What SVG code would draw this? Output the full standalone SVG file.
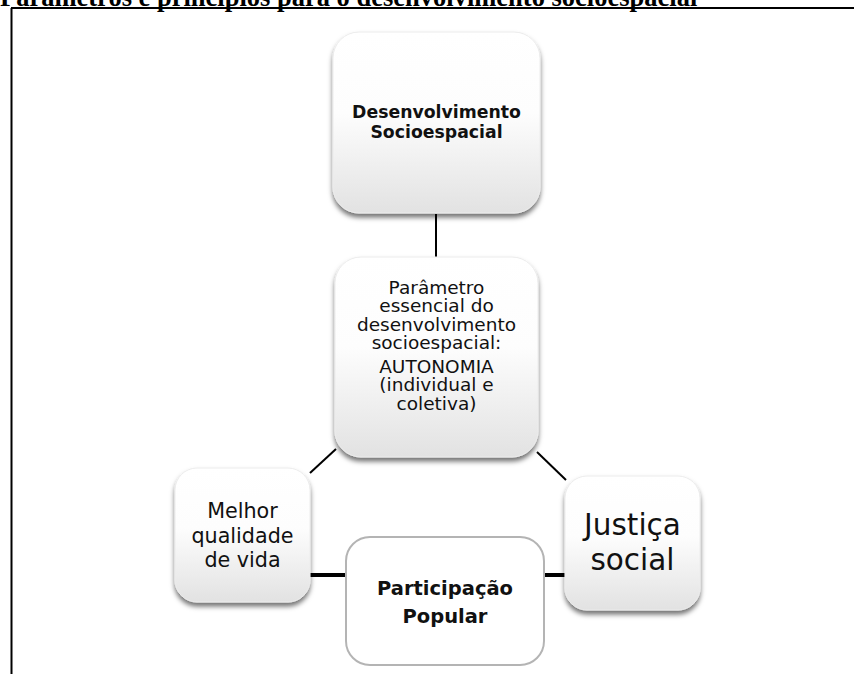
<svg xmlns="http://www.w3.org/2000/svg" width="854" height="674" viewBox="0 0 854 674">
<defs>
<linearGradient id="g" x1="0" y1="0" x2="0" y2="1">
<stop offset="0" stop-color="#ffffff"/>
<stop offset="0.45" stop-color="#fdfdfd"/>
<stop offset="1" stop-color="#e2e2e2"/>
</linearGradient>
<filter id="sh" x="-20%" y="-20%" width="140%" height="140%">
<feDropShadow dx="0" dy="4" stdDeviation="2.5" flood-color="#000" flood-opacity="0.55"/>
</filter>
</defs>
<style>
.box{fill:url(#g);stroke:#ececec;stroke-width:1;filter:url(#sh)}
.plain{fill:#fff;stroke:#b4b4b4;stroke-width:2}
.t{font-family:"DejaVu Sans","Verdana",sans-serif;fill:#111;text-anchor:middle}
.b{font-weight:bold}
.c{stroke:#000;fill:none}
.title{font-family:"Liberation Serif","Times New Roman",serif;font-weight:bold;font-size:26.5px;fill:#000}
</style>
<rect width="854" height="674" fill="#fff"/>
<text class="title" x="0" y="6">Parâmetros e princípios para o desenvolvimento socioespacial</text>
<path d="M11 8 H854 M11.5 8 V674" stroke="#000" stroke-width="2" fill="none"/>
<g id="connectors">
<path class="c" stroke-width="2" d="M436 214 V257"/>
<path class="c" stroke-width="2" d="M310 473 L336 449"/>
<path class="c" stroke-width="2" d="M537 452 L566 480"/>
<path class="c" stroke-width="4" d="M310 575 H346"/>
<path class="c" stroke-width="4" d="M537 575 H566"/>
</g>
<g id="desenvolvimento">
<rect class="box" x="333" y="32" width="207" height="181" rx="26"/>
<text class="t b" font-size="17.3"><tspan x="436.5" y="118">Desenvolvimento</tspan><tspan x="436.5" y="138">Socioespacial</tspan></text>
</g>
<g id="parametro">
<rect class="box" x="335" y="257" width="203" height="200" rx="26"/>
<text class="t" font-size="18.5"><tspan x="436.5" y="294">Parâmetro</tspan><tspan x="436.5" y="312.3">essencial do</tspan><tspan x="436.5" y="330.6">desenvolvimento</tspan><tspan x="436.5" y="349">socioespacial:</tspan><tspan x="436.5" y="373">AUTONOMIA</tspan><tspan x="436.5" y="391.3">(individual e</tspan><tspan x="436.5" y="409.6">coletiva)</tspan></text>
</g>
<g id="qualidade">
<rect class="box" x="175" y="468" width="135" height="134" rx="22"/>
<text class="t" font-size="20.7"><tspan x="242.5" y="518">Melhor</tspan><tspan x="242.5" y="543">qualidade</tspan><tspan x="242.5" y="567">de vida</tspan></text>
</g>
<g id="justica">
<rect class="box" x="565" y="476" width="135" height="134" rx="22"/>
<text class="t" font-size="29.5"><tspan x="632.5" y="535">Justiça</tspan><tspan x="632.5" y="570">social</tspan></text>
</g>
<g id="participacao">
<rect class="plain" x="346" y="537" width="198" height="128" rx="24"/>
<text class="t b" font-size="19.5"><tspan x="445" y="595">Participação</tspan><tspan x="445" y="623">Popular</tspan></text>
</g>
</svg>
